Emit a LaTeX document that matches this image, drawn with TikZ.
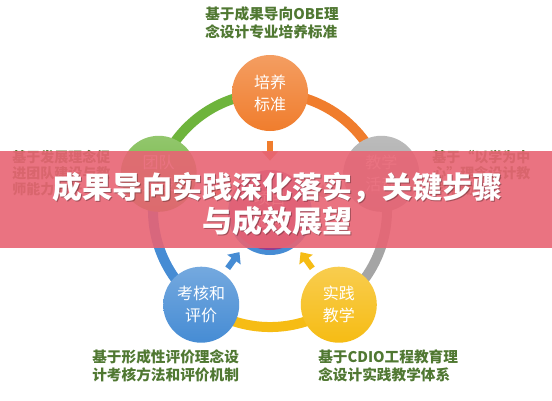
\documentclass[tikz,border=0pt]{standalone}
\usepackage{fontspec}
\newfontfamily\cjk{Noto Sans CJK SC}
\newfontfamily\cjkblack{Noto Sans CJK SC Black}
\usetikzlibrary{calc,arrows.meta}
\definecolor{orangeC}{RGB}{240,125,45}
\definecolor{greenC}{RGB}{110,180,60}
\definecolor{grayC}{RGB}{165,165,165}
\definecolor{blueC}{RGB}{70,140,212}
\definecolor{yellowC}{RGB}{246,188,20}
\definecolor{purpleC}{RGB}{150,60,140}
\definecolor{labelgreen}{RGB}{80,120,50}
\definecolor{bannerC}{RGB}{232,100,116}
\tikzset{
  ball/.style={circle, minimum size=57pt, inner sep=0pt, text=white, align=center,
    font=\cjk\fontsize{12}{16.5}\selectfont},
  ring/.style={line width=7.5pt},
  pointer/.style={line width=4.5pt, -{Triangle[length=7pt,width=12pt]}},
  outlabel/.style={text=labelgreen, align=left, inner sep=0pt, anchor=west},
  sidelabel/.style={outlabel, font=\cjk\bfseries\fontsize{10.5}{12}\selectfont},
  bottomlabel/.style={outlabel, font=\cjk\bfseries\fontsize{11}{13.5}\selectfont},
  bannertext/.style={text=white, font=\cjkblack\fontsize{22.5}{25.5}\selectfont, align=center},
}
\begin{document}
\begin{tikzpicture}[x=0.75pt,y=-0.75pt]
\useasboundingbox (0,0) rectangle (552,400);
\fill[white] (0,0) rectangle (552,400);
\coordinate (ctr) at (270,210);
% ring arcs
\coordinate (pT) at (270,93);
\coordinate (pR) at (381.3,173.8);
\coordinate (pBR) at (338.8,304.7);
\coordinate (pBL) at (201.2,304.7);
\coordinate (pL) at (158.7,173.8);
\draw[ring, orangeC] (pT) arc[start angle=-90, end angle=-18, radius=117];
\draw[ring, grayC] (pR) arc[start angle=-18, end angle=54, radius=117];
\draw[ring, yellowC] (pBR) arc[start angle=54, end angle=126, radius=117];
\draw[ring, blueC] (pBL) arc[start angle=126, end angle=198, radius=117];
\draw[ring, greenC] (pL) arc[start angle=198, end angle=270, radius=117];
% circles
\node[ball, top color=orangeC!75!white, bottom color=orangeC] (top) at (pT) {培养\\标准};
\node[ball, top color=grayC!75!white, bottom color=grayC] (right) at (pR) {教学\\活动};
\node[ball, top color=yellowC!75!white, bottom color=yellowC] (bright) at (pBR) {实践\\教学};
\node[ball, top color=blueC!75!white, bottom color=blueC] (bleft) at (pBL) {考核和\\评价};
\node[ball, top color=greenC!75!white, bottom color=greenC] (left) at (pL) {团队\\建设};
\fill[blueC] (270,213) circle[radius=42];
\node[ball, minimum size=60pt, top color=purpleC!80!white, bottom color=purpleC] (center) at (270,210) {项目\\驱动};
% arrows
\draw[pointer, orangeC] ($(ctr)!52pt!(top)$) -- ($(ctr)!37pt!(top)$);
\draw[pointer, grayC] ($(ctr)!52pt!(right)$) -- ($(ctr)!37pt!(right)$);
\draw[pointer, yellowC] ($(ctr)!54pt!(bright)$) -- ($(ctr)!39pt!(bright)$);
\draw[pointer, blueC] ($(ctr)!54pt!(bleft)$) -- ($(ctr)!39pt!(bleft)$);
\draw[pointer, orangeC!70!greenC] ($(ctr)!52pt!(left)$) -- ($(ctr)!37pt!(left)$);
% outer labels
\node[bottomlabel] (ltop) at (205,23) {基于成果导向OBE理\\念设计专业培养标准};
\node[sidelabel] (lleft) at (12,173) {基于发展理念促\\进团队建设与教\\师能力提升};
\node[sidelabel] (lright) at (432,173) {基于“以学为中\\心”理念设计教\\学活动};
\node[bottomlabel] (lbl) at (92,366) {基于形成性评价理念设\\计考核方法和评价机制};
\node[bottomlabel] (lbr) at (318,366) {基于CDIO工程教育理\\念设计实践教学体系};
% banner
\fill[bannerC, opacity=0.9] (0,151) rectangle (552,248);
\node[bannertext, text=black, opacity=0.3] (bshadow) at (278.5,205.5) {成果导向实践深化落实，关键步骤\\与成效展望};
\node[bannertext] (btext) at (277,204) {成果导向实践深化落实，关键步骤\\与成效展望};
\end{tikzpicture}
\end{document}
